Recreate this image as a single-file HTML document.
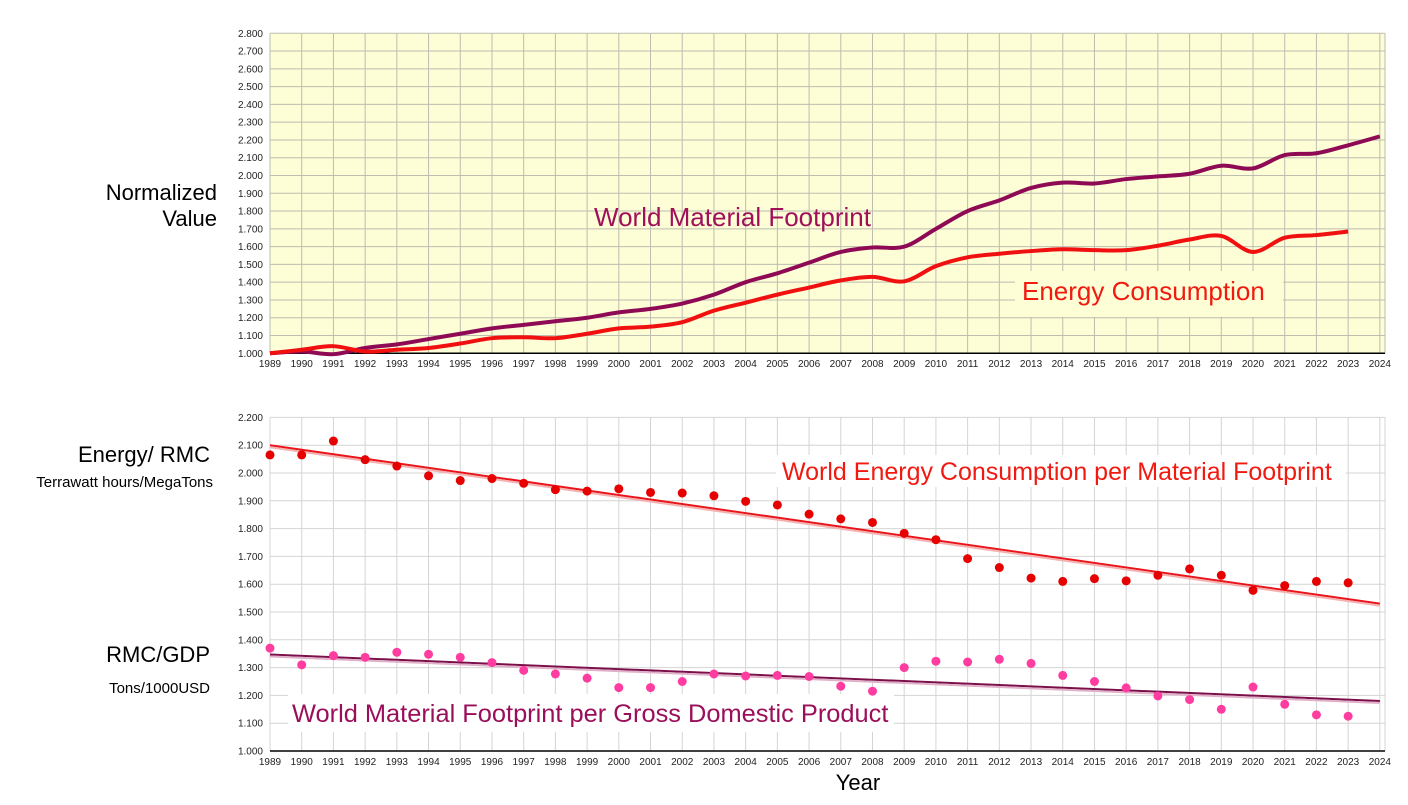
<!DOCTYPE html>
<html><head><meta charset="utf-8"><style>
body{margin:0;background:#fff;font-family:"Liberation Sans",Arial,sans-serif}
svg text{font-family:"Liberation Sans",Arial,sans-serif}
</style></head><body>
<svg id="c" width="1408" height="800" xmlns="http://www.w3.org/2000/svg"></svg>
<script>
const years=[];for(let y=1989;y<=2024;y++)years.push(y);
const topTicks=[1.0,1.1,1.2,1.3,1.4,1.5,1.6,1.7,1.8,1.9,2.0,2.1,2.2,2.3,2.4,2.5,2.6,2.7,2.8];
const botTicks=[1.0,1.1,1.2,1.3,1.4,1.5,1.6,1.7,1.8,1.9,2.0,2.1,2.2];
const materialFootprint=[1.000,1.010,0.995,1.030,1.050,1.080,1.110,1.140,1.160,1.180,1.200,1.230,1.250,1.280,1.330,1.400,1.450,1.510,1.570,1.595,1.600,1.700,1.800,1.860,1.930,1.960,1.955,1.980,1.995,2.010,2.055,2.040,2.115,2.125,2.170,2.220];
const energyConsumption=[1.000,1.020,1.040,1.010,1.020,1.030,1.055,1.085,1.090,1.085,1.110,1.140,1.150,1.175,1.240,1.285,1.330,1.370,1.410,1.430,1.405,1.490,1.540,1.560,1.575,1.585,1.580,1.580,1.605,1.640,1.660,1.570,1.650,1.665,1.685];
const energyPerRMC=[2.065,2.065,2.115,2.048,2.025,1.990,1.973,1.980,1.963,1.940,1.935,1.943,1.930,1.928,1.918,1.898,1.885,1.852,1.835,1.822,1.783,1.760,1.692,1.660,1.622,1.610,1.620,1.612,1.632,1.655,1.632,1.578,1.595,1.610,1.605];
const rmcPerGDP=[1.370,1.310,1.343,1.337,1.355,1.348,1.337,1.318,1.290,1.277,1.262,1.228,1.228,1.250,1.277,1.270,1.272,1.268,1.233,1.215,1.300,1.323,1.320,1.330,1.315,1.272,1.250,1.227,1.198,1.185,1.150,1.230,1.168,1.130,1.125];
const energyTrend=[2.100,1.530];
const gdpTrend=[1.347,1.180];

const svg=document.getElementById('c');const NS='http://www.w3.org/2000/svg';
function mk(t,a,p){const e=document.createElementNS(NS,t);for(const k in a)e.setAttribute(k,a[k]);(p||svg).appendChild(e);return e;}
const X0=270,XS=31.71;
const x=i=>X0+i*XS;
const yT=v=>353.3-(v-1)*177.8;
const yB=v=>751-(v-1)*278;

let g=mk('g',{});


let r=mk('rect',{x:X0,y:yT(2.8),width:1385-X0,height:yT(1)-yT(2.8),fill:'#fdfdd6'},g);

topTicks.forEach(v=>{mk('line',{x1:X0,x2:1385,y1:yT(v),y2:yT(v),stroke:'#bdbdb0','stroke-width':1},g);
 const t=mk('text',{x:263,y:yT(v)+3.5,'font-size':10,'text-anchor':'end',fill:'#222'},g);t.textContent=v.toFixed(3);
 });
years.forEach((yr,i)=>{mk('line',{x1:x(i),x2:x(i),y1:yT(2.8),y2:yT(1),stroke:'#bdbdb0','stroke-width':1},g);
 const t=mk('text',{x:x(i),y:367,'font-size':10,'text-anchor':'middle',fill:'#222'},g);t.textContent=yr;
 });
mk('line',{x1:1385,x2:1385,y1:yT(2.8),y2:yT(1),stroke:'#bdbdb0'},g);
mk('line',{x1:X0,x2:1385,y1:yT(1),y2:yT(1),stroke:'#000','stroke-width':1.5},g);
function smooth(vals,yf){const p=vals.map((v,i)=>[x(i),yf(v)]);let d='M'+p[0];for(let i=0;i<p.length-1;i++){const p0=p[i-1]||p[i],p1=p[i],p2=p[i+1],p3=p[i+2]||p2;
 d+=' C'+(p1[0]+(p2[0]-p0[0])/6)+','+(p1[1]+(p2[1]-p0[1])/6)+' '+(p2[0]-(p3[0]-p1[0])/6)+','+(p2[1]-(p3[1]-p1[1])/6)+' '+p2[0]+','+p2[1];}return d;}
let l1=mk('path',{d:smooth(materialFootprint,yT),fill:'none',stroke:'#8e0a55','stroke-width':4},g);

let l2=mk('path',{d:smooth(energyConsumption,yT),fill:'none',stroke:'#f01010','stroke-width':4},g);

function label(txt,xx,yy,size,col,name,anchor,bg){if(bg){mk('rect',bg);}const t=mk('text',{x:xx,y:yy,'font-size':size,fill:col,'text-anchor':anchor||'start'});t.textContent=txt;
 return t;}
label('World Material Footprint',594,226,26,'#a0105a','material-footprint-label');
label('Energy Consumption',1022,300,26,'#f01a10','energy-consumption-label','start',{x:1015,y:271,width:268,height:46,fill:'#fdfdd6'});
label('Normalized',217,200,22,'#000','top-y-title-1','end');
label('Value',217,226,22,'#000','top-y-title-2','end');

let g2=mk('g',{});


botTicks.forEach(v=>{mk('line',{x1:X0,x2:1385,y1:yB(v),y2:yB(v),stroke:'#d4d4d4'},g2);
 const t=mk('text',{x:263,y:yB(v)+3.5,'font-size':10,'text-anchor':'end',fill:'#222'},g2);t.textContent=v.toFixed(3);
 });
years.forEach((yr,i)=>{mk('line',{x1:x(i),x2:x(i),y1:yB(2.2),y2:yB(1),stroke:'#d4d4d4'},g2);
 const t=mk('text',{x:x(i),y:765,'font-size':10,'text-anchor':'middle',fill:'#222'},g2);t.textContent=yr;
 });
mk('line',{x1:1385,x2:1385,y1:yB(2.2),y2:yB(1),stroke:'#d4d4d4'},g2);
mk('line',{x1:X0,x2:1385,y1:yB(1),y2:yB(1),stroke:'#000','stroke-width':1.5},g2);
mk('rect',{x:288,y:694,width:606,height:38,fill:'#fff'},g2);
const last=years.length-1;
let t1=mk('line',{x1:x(0),y1:yB(energyTrend[0]),x2:x(last),y2:yB(energyTrend[1]),stroke:'#e8141a','stroke-width':2},g2);
mk('line',{x1:x(0),y1:yB(energyTrend[0])+2,x2:x(last),y2:yB(energyTrend[1])+2,stroke:'#f5b0b0','stroke-width':2},g2);

let t2=mk('line',{x1:x(0),y1:yB(gdpTrend[0]),x2:x(last),y2:yB(gdpTrend[1]),stroke:'#7a0f4a','stroke-width':2},g2);
mk('line',{x1:x(0),y1:yB(gdpTrend[0])+2,x2:x(last),y2:yB(gdpTrend[1])+2,stroke:'#e0b0c8','stroke-width':2},g2);

energyPerRMC.forEach((v,i)=>{const c=mk('circle',{cx:x(i),cy:yB(v),r:4.5,fill:'#e60000'},g2);
 });
rmcPerGDP.forEach((v,i)=>{const c=mk('circle',{cx:x(i),cy:yB(v),r:4.5,fill:'#ff3da0'},g2);
 });
label('World Energy Consumption per Material Footprint',782,480,25,'#f01a10','energy-per-rmc-label','start',{x:776,y:455,width:570,height:32,fill:'#fff'});
label('World Material Footprint per Gross Domestic Product',292,722,25.4,'#9a0f5a','rmc-per-gdp-label');
label('Energy/ RMC',210,462,22,'#000','energy-rmc-title','end');
label('Terrawatt hours/MegaTons',213,487,15,'#000','energy-rmc-unit','end');
label('RMC/GDP',210,662,22,'#000','rmc-gdp-title','end');
label('Tons/1000USD',210,693,15,'#000','rmc-gdp-unit','end');
label('Year',858,790,22,'#000','x-axis-title','middle');
</script>
</body></html>
